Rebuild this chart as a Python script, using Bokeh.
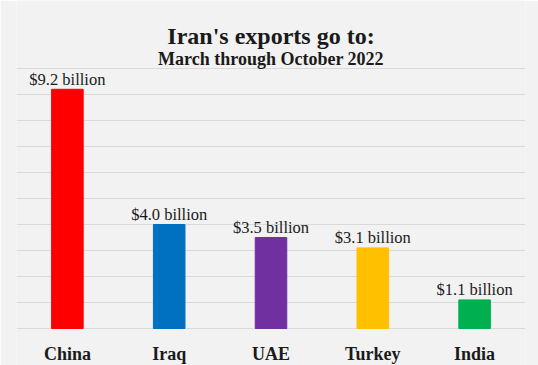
from bokeh.plotting import figure
from bokeh.models import ColumnDataSource, FactorRange, Range1d, FixedTicker, Label
from bokeh.core.properties import value
from bokeh.embed import file_html
from bokeh.resources import INLINE

# Data
countries = ["China", "Iraq", "UAE", "Turkey", "India"]
exports_bn = [9.2, 4.0, 3.5, 3.1, 1.1]
bar_colors = ["#ff0000", "#0070c0", "#7030a0", "#ffc000", "#00b050"]
grid_ticks = [0, 1, 2, 3, 4, 5, 6, 7, 8, 9, 10]
title_text = "Iran's exports go to:"
subtitle_text = "March through October 2022"

labels = ["${:.1f} billion".format(v) for v in exports_bn]
src = ColumnDataSource(dict(country=countries, val=exports_bn, color=bar_colors,
                            label=labels, zero=[0] * len(countries)))

FONT = "Liberation Serif"
BG = "#f2f2f2"
INK = "#1a1a1a"

p = figure(width=538, height=365, output_backend="svg", toolbar_location=None,
           x_range=FactorRange(*countries, range_padding=0),
           y_range=Range1d(-1.423, 12.615),
           min_border_left=16, min_border_right=13, min_border_top=0, min_border_bottom=0,
           background_fill_color=BG, border_fill_color=BG, outline_line_color=None)

p.xaxis.visible = False
p.yaxis.visible = False
p.ygrid.ticker = FixedTicker(ticks=grid_ticks)
p.ygrid.grid_line_color = "#d9d9d9"
p.ygrid.grid_line_width = 1
p.xgrid.grid_line_color = None

p.vbar(x="country", top="val", width=0.31, color="color", source=src)

# value labels above bars
p.text(x="country", y="val", text="label", source=src, text_align="center",
       text_baseline="alphabetic", y_offset=-10, text_font=value(FONT),
       text_font_size="16.5px", text_color=INK)

# category labels below baseline
p.text(x="country", y="zero", text="country", source=src, text_align="center",
       text_baseline="alphabetic", y_offset=25, text_font=value(FONT),
       text_font_style="bold", text_font_size="18px", text_color=INK)

p.add_layout(Label(x=2.5, y=11.231, text=title_text, text_align="center",
                   text_baseline="alphabetic", text_font=FONT, text_font_style="bold",
                   text_font_size="24px", text_color=INK))
p.add_layout(Label(x=2.5, y=10.346, text=subtitle_text, text_align="center",
                   text_baseline="alphabetic", text_font=FONT, text_font_style="bold",
                   text_font_size="18px", text_color=INK))

open("out.html", "w").write(file_html(p, INLINE))
